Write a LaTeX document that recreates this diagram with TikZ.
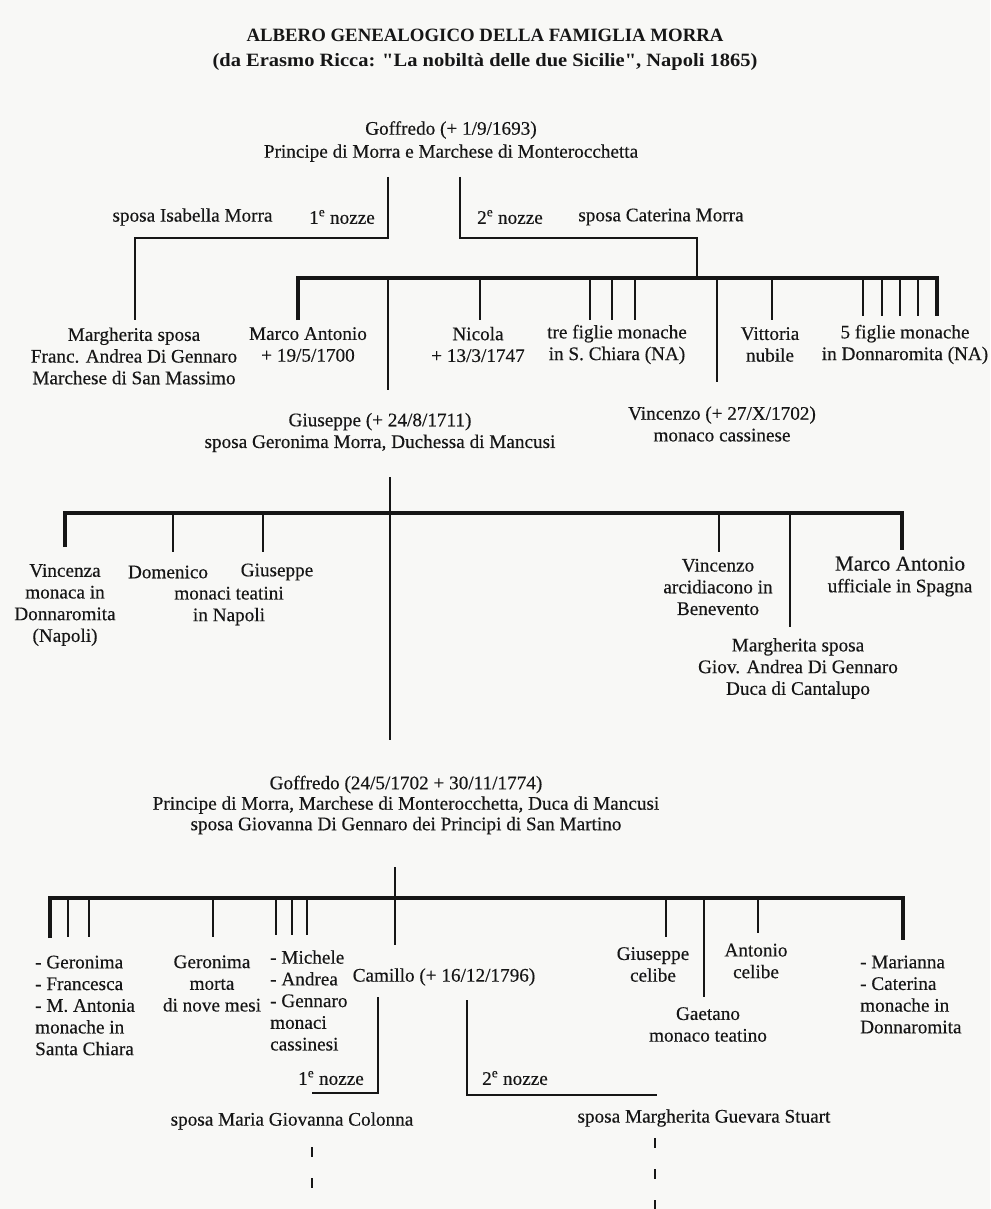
\documentclass[tikz,border=0pt]{standalone}
\usepackage{fontspec}
\usepackage{graphicx}
\setmainfont{Liberation Serif}[UprightFeatures={FakeBold=0.35}]
\newfontfamily\rawq{Liberation Serif Bold}[Ligatures=ResetAll]
\definecolor{bg}{RGB}{248,248,246}
\definecolor{ink}{RGB}{22,22,22}
\begin{document}
\begin{tikzpicture}[x=1pt,y=-1pt,
  lbl/.style={font=\fontsize{19.2}{21.7}\selectfont, text=ink, inner sep=0pt, align=center},
  lblL/.style={lbl, align=left},
  ttl/.style={font=\bfseries\fontsize{18.8}{25}\selectfont, text=ink, inner sep=0pt, align=center},
  ln/.style={draw=ink, line width=2.7pt},
  barln/.style={draw=ink, line width=3.3pt},
  dashln/.style={draw=ink, line width=2.7pt, dash pattern=on 10pt off 21pt}]
\fill[bg] (0,0) rectangle (990,1209);
\useasboundingbox (0,0) rectangle (990,1209);

% ---- title
\node[ttl] (title) at (485,49.5) {ALBERO GENEALOGICO DELLA FAMIGLIA MORRA\\\scalebox{1.09}[1]{(da Erasmo Ricca: {\rawq\char34}La nobiltà delle due Sicilie{\rawq\char34}, Napoli 1865)}};

% ---- generation 1
\node[lbl, font=\fontsize{19.2}{23}\selectfont] (g1) at (451,141.5) {Goffredo (+ 1/9/1693)\\Principe di Morra e Marchese di Monterocchetta};
\node[lbl] (sp1) at (192.5,217) {sposa Isabella Morra};
\node[lbl] (n1) at (342,217) {1\textsuperscript{e} nozze};
\node[lbl] (n2) at (510,217) {2\textsuperscript{e} nozze};
\node[lbl] (sp2) at (661,217) {sposa Caterina Morra};

\coordinate (g1L) at (388,177);
\coordinate (g1R) at (460,177);
\coordinate (b1) at (0,278);
\draw[ln] (g1L) -- (388,238) -- (135,238) -- (135,320);
\draw[ln] (g1R) -- (460,238) -- (697,238) -- (b1 -| 697,0);

% ---- children of Goffredo
\node[lbl] (marg1) at (134,356) {Margherita sposa\\Franc. Andrea Di Gennaro\\Marchese di San Massimo};
\node[lbl] (marco1) at (308,344.5) {Marco Antonio\\+ 19/5/1700};
\node[lbl] (nicola) at (478,344.5) {Nicola\\+ 13/3/1747};
\node[lbl] (tre) at (617,344.5) {tre figlie monache\\in S. Chiara (NA)};
\node[lbl] (vitt) at (770,344.5) {Vittoria\\nubile};
\node[lbl] (cinque) at (905,344.5) {5 figlie monache\\in Donnaromita (NA)};
\node[lbl] (gius1) at (380,432.5) {Giuseppe (+ 24/8/1711)\\sposa Geronima Morra, Duchessa di Mancusi};
\node[lbl] (vinc1) at (722,424) {Vincenzo (+ 27/X/1702)\\monaco cassinese};

\draw[barln] (298,320) -- (b1 -| 298,0) -- (b1 -| 937,0) -- (937,316);
\foreach \x in {480,590,612,635,772} \draw[ln] (b1 -| \x,0) -- (\x,320);
\foreach \x in {863,882,900,918} \draw[ln] (b1 -| \x,0) -- (\x,316);
\draw[ln] (b1 -| 388,0) -- (388,390);
\draw[ln] (b1 -| 717,0) -- (717,382);

% ---- children of Giuseppe
\coordinate (b2) at (0,513);
\draw[ln] (390,477) -- (390,740);
\draw[barln] (65,547) -- (b2 -| 65,0) -- (b2 -| 902,0) -- (902,550);
\foreach \x in {173,263,719} \draw[ln] (b2 -| \x,0) -- (\x,552);
\draw[ln] (b2 -| 790,0) -- (790,627);

\node[lbl] (vincenza) at (65,605) {Vincenza\\monaca in\\Donnaromita\\(Napoli)};
\node[lbl] (domenico) at (168,572) {Domenico};
\node[lbl] (gius2) at (277,572) {Giuseppe};
\node[lbl] (teatini) at (229,606) {monaci teatini\\in Napoli};
\node[lbl] (vinc2) at (718,587) {Vincenzo\\arcidiacono in\\Benevento};
\node[lbl] (marco2) at (900,576.5) {{\fontsize{21.2}{22}\selectfont Marco Antonio}\\ufficiale in Spagna};
\node[lbl] (marg2) at (798,668.5) {Margherita sposa\\Giov. Andrea Di Gennaro\\Duca di Cantalupo};

% ---- Goffredo (1702-1774)
\node[lbl, font=\fontsize{19.2}{20.5}\selectfont] (g2) at (406,805) {Goffredo (24/5/1702 + 30/11/1774)\\Principe di Morra, Marchese di Monterocchetta, Duca di Mancusi\\sposa Giovanna Di Gennaro dei Principi di San Martino};

\coordinate (b3) at (0,898);
\draw[ln] (395,867) -- (395,945);
\draw[barln] (50,938) -- (b3 -| 50,0) -- (b3 -| 903,0) -- (903,940);
\foreach \x in {68,89,213,666} \draw[ln] (b3 -| \x,0) -- (\x,937);
\foreach \x in {276,292,307} \draw[ln] (b3 -| \x,0) -- (\x,935);
\draw[ln] (b3 -| 704,0) -- (704,997);
\draw[ln] (b3 -| 758,0) -- (758,933);

\node[lblL, anchor=west] (geronL) at (35,1005.5) {- Geronima\\- Francesca\\- M. Antonia\\monache in\\Santa Chiara};
\node[lbl] (geron2) at (212,983.5) {Geronima\\morta\\di nove mesi};
\node[lblL, anchor=west] (michele) at (270,1000.5) {- Michele\\- Andrea\\- Gennaro\\monaci\\cassinesi};
\node[lbl] (camillo) at (444,977) {Camillo (+ 16/12/1796)};
\node[lbl] (giuscel) at (653,964.5) {Giuseppe\\celibe};
\node[lbl] (antonio) at (756,961) {Antonio\\celibe};
\node[lbl] (gaetano) at (708,1024.5) {Gaetano\\monaco teatino};
\node[lblL, anchor=west] (marianna) at (860,994.5) {- Marianna\\- Caterina\\monache in\\Donnaromita};

% ---- Camillo's marriages
\coordinate (c1) at (378,997);
\coordinate (c2) at (467,1000);
\draw[ln] (c1) -- (378,1093) -- (312,1093);
\draw[ln] (c2) -- (467,1095) -- (657,1095);
\node[lbl] (n3) at (331,1078) {1\textsuperscript{e} nozze};
\node[lbl] (n4) at (515,1078) {2\textsuperscript{e} nozze};
\node[lbl] (sp3) at (292,1121) {sposa Maria Giovanna Colonna};
\node[lbl] (sp4) at (704,1118) {sposa Margherita Guevara Stuart};
\coordinate (endL) at (312,1209);
\coordinate (endR) at (655,1209);
\draw[dashln] (312,1147) -- (endL);
\draw[dashln] (655,1138) -- (endR);
\end{tikzpicture}
\end{document}
